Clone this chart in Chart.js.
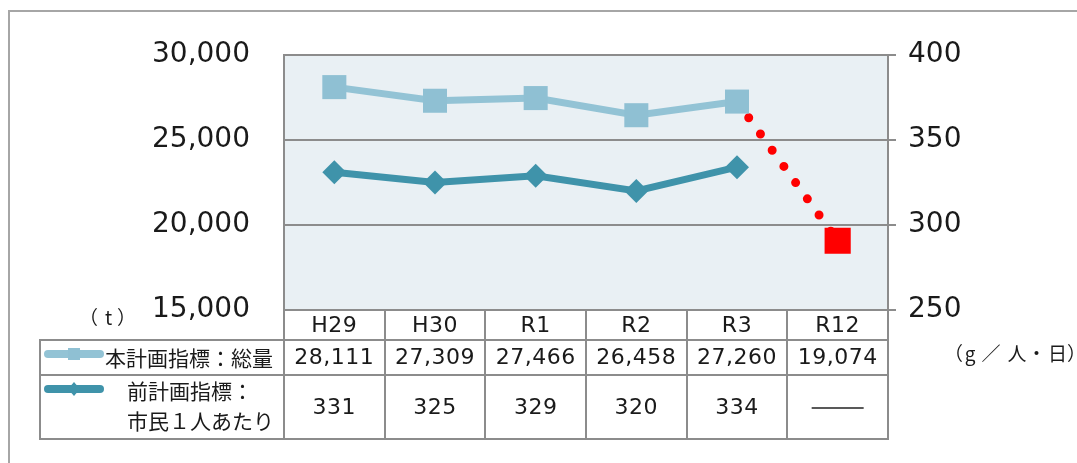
<!DOCTYPE html>
<html><head><meta charset="utf-8">
<style>html,body{margin:0;padding:0;background:#fff;}#wrap{position:relative;width:1077px;height:463px;}</style>
<script src="https://cdn.jsdelivr.net/npm/chart.js@4"></script>
</head><body><div id="wrap"><canvas id="c" width="1077" height="463"></canvas></div>
<script>
// ---- data ----
const categories = ['H29', 'H30', 'R1', 'R2', 'R3', 'R12'];
const totalValues = [28111, 27309, 27466, 26458, 27260, null];
const targetValues = [null, null, null, null, 27260, 19074];
const perCapitaValues = [331, 325, 329, 320, 334, null];
const tableTotal = [28111, 27309, 27466, 26458, 27260, 19074];
const leftTicks = [15000, 20000, 25000, 30000];
const rightTicks = [250, 300, 350, 400];
const seriesNameTotal = '本計画指標：総量';
const seriesNamePerCapita = ['前計画指標：', '市民１人あたり'];
const leftUnit = '（t）';
const rightUnit = '（g／人・日）';

// ---- styles ----
const C_LIGHT = '#93C3D5';
const C_LIGHT_PT = '#8FC0D3';
const C_TEAL = '#3F93AA';
const C_RED = '#FF0000';
const C_GRID = '#8C8C8C';
const NUM_FONT = '"DejaVu Sans", sans-serif';
const JP_FONT = '"Noto Sans CJK JP", sans-serif';

// draw a unit label char by char: first char right-aligned, last left-aligned, others centred
function drawUnit(ctx, text, y, xs) {
  const chars = Array.from(text);
  chars.forEach((ch, i) => {
    ctx.textAlign = i === 0 ? 'right' : (i === chars.length - 1 ? 'left' : 'center');
    ctx.fillText(ch, xs[i], y);
  });
}

const bgPlugin = {
  id: 'bg',
  beforeDraw(chart) {
    const {ctx, chartArea: a} = chart;
    ctx.save();
    ctx.fillStyle = '#fff';
    ctx.fillRect(0, 0, chart.width, chart.height);
    ctx.strokeStyle = '#A6A6A6';
    ctx.lineWidth = 2;
    ctx.beginPath();
    ctx.moveTo(9, 470); ctx.lineTo(9, 11); ctx.lineTo(1090, 11);
    ctx.stroke();
    ctx.fillStyle = '#E9F0F4';
    ctx.fillRect(a.left, a.top, a.right - a.left, a.bottom - a.top);
    ctx.restore();
  }
};

const tablePlugin = {
  id: 'table',
  afterDraw(chart) {
    const {ctx, chartArea: a} = chart;
    const xs = chart.scales.x;
    const n = categories.length;
    const cw = (a.right - a.left) / n;
    const y0 = a.bottom, y1 = 340, y2 = 375, y3 = 439, xl = 40;
    ctx.save();
    ctx.strokeStyle = C_GRID;
    ctx.lineWidth = 2;
    ctx.beginPath();
    [y1, y2, y3].forEach(y => { ctx.moveTo(xl, y); ctx.lineTo(a.right + 1, y); });
    ctx.moveTo(a.left, y0); ctx.lineTo(a.right, y0);
    ctx.moveTo(xl, y1 - 1); ctx.lineTo(xl, y3 + 1);
    for (let i = 0; i <= n; i++) {
      const x = Math.round(a.left + i * cw);
      ctx.moveTo(x, y0); ctx.lineTo(x, y3 + 1);
    }
    ctx.stroke();

    ctx.fillStyle = '#1a1a1a';
    ctx.textAlign = 'center';
    ctx.textBaseline = 'middle';
    ctx.font = '22px ' + NUM_FONT;
    if ('letterSpacing' in ctx) ctx.letterSpacing = '0.5px';
    categories.forEach((c, i) => {
      const x = xs.getPixelForValue(i);
      ctx.fillText(c, x, (y0 + y1) / 2 + 1);
      ctx.fillText(tableTotal[i].toLocaleString('en-US'), x, (y1 + y2) / 2 + 1);
      const v = perCapitaValues[i];
      if (v == null) {
        ctx.save();
        ctx.strokeStyle = '#222'; ctx.lineWidth = 1.5;
        ctx.beginPath(); ctx.moveTo(x - 26, (y2 + y3) / 2 + 1); ctx.lineTo(x + 26, (y2 + y3) / 2 + 1); ctx.stroke();
        ctx.restore();
      } else {
        ctx.fillText(String(v), x, (y2 + y3) / 2 + 1);
      }
    });
    if ('letterSpacing' in ctx) ctx.letterSpacing = '0px';

    // legend samples
    ctx.lineCap = 'round';
    ctx.lineWidth = 8;
    ctx.strokeStyle = C_LIGHT;
    ctx.beginPath(); ctx.moveTo(48, 354); ctx.lineTo(100, 354); ctx.stroke();
    ctx.fillStyle = C_LIGHT_PT;
    ctx.fillRect(68, 348, 12, 12);
    ctx.strokeStyle = C_TEAL;
    ctx.beginPath(); ctx.moveTo(48, 389); ctx.lineTo(100, 389); ctx.stroke();
    ctx.fillStyle = C_TEAL;
    ctx.beginPath(); ctx.moveTo(74, 382); ctx.lineTo(80, 389); ctx.lineTo(74, 396); ctx.lineTo(68, 389); ctx.closePath(); ctx.fill();

    ctx.fillStyle = '#1a1a1a';
    ctx.textAlign = 'left';
    ctx.font = '21px ' + JP_FONT;
    ctx.fillText(seriesNameTotal, 105, (y1 + y2) / 2 + 1);
    ctx.fillText(seriesNamePerCapita[0], 127, 391);
    ctx.fillText(seriesNamePerCapita[1], 127, 421);

    ctx.font = '19px ' + JP_FONT;
    drawUnit(ctx, leftUnit, 318, [98, 108.5, 117]);
    drawUnit(ctx, rightUnit, 354, [963, 970, 991, 1017, 1036.5, 1057.5, 1067]);
    ctx.restore();
  }
};

new Chart(document.getElementById('c'), {
  type: 'line',
  data: {
    labels: categories,
    datasets: [
      {
        label: seriesNameTotal, data: totalValues, yAxisID: 'yL', order: 1,
        borderColor: C_LIGHT, borderWidth: 7, tension: 0,
        pointStyle: 'rect', pointRadius: 17, pointBackgroundColor: C_LIGHT_PT,
        pointBorderColor: C_LIGHT_PT, pointBorderWidth: 0, pointHoverRadius: 17
      },
      {
        label: seriesNamePerCapita.join(''), data: perCapitaValues, yAxisID: 'yR', order: 2,
        borderColor: C_TEAL, borderWidth: 7, tension: 0,
        pointStyle: 'rectRot', pointRadius: 12, pointBackgroundColor: C_TEAL,
        pointBorderColor: C_TEAL, pointBorderWidth: 0, pointHoverRadius: 12
      },
      {
        label: '目標', data: targetValues, yAxisID: 'yL', order: 3,
        borderColor: C_RED, borderWidth: 9, borderDash: [0, 20], borderCapStyle: 'round', tension: 0,
        pointStyle: 'rect', pointRadius: [0, 0, 0, 0, 0, 18.5], pointBackgroundColor: C_RED,
        pointBorderColor: C_RED, pointBorderWidth: 0, pointHoverRadius: [0, 0, 0, 0, 0, 18.5]
      }
    ]
  },
  options: {
    responsive: false, animation: false, devicePixelRatio: 1, locale: 'en-US',
    layout: {padding: {top: 55, bottom: 153, left: 0, right: 0}},
    plugins: {legend: {display: false}, tooltip: {enabled: false}},
    events: [],
    scales: {
      x: {type: 'category', offset: true, display: false},
      yL: {
        position: 'left', min: leftTicks[0], max: leftTicks[leftTicks.length - 1],
        afterFit: s => { s.width = 284; },
        afterBuildTicks: s => { s.ticks = leftTicks.map(v => ({value: v})); },
        ticks: {padding: 34, color: '#1a1a1a', font: {family: NUM_FONT, size: 28},
          callback: v => v.toLocaleString('en-US')},
        grid: {display: false, drawTicks: false},
        border: {display: true, color: C_GRID, width: 2}
      },
      yR: {
        position: 'right', min: rightTicks[0], max: rightTicks[rightTicks.length - 1],
        afterFit: s => { s.width = 1077 - 888; },
        afterBuildTicks: s => { s.ticks = rightTicks.map(v => ({value: v})); },
        ticks: {padding: 12, color: '#1a1a1a', font: {family: NUM_FONT, size: 28},
          callback: v => String(v)},
        grid: {display: true, color: C_GRID, lineWidth: 2, tickLength: 8, drawOnChartArea: true},
        border: {display: true, color: C_GRID, width: 2}
      }
    }
  },
  plugins: [bgPlugin, tablePlugin]
});
</script>
</body></html>
